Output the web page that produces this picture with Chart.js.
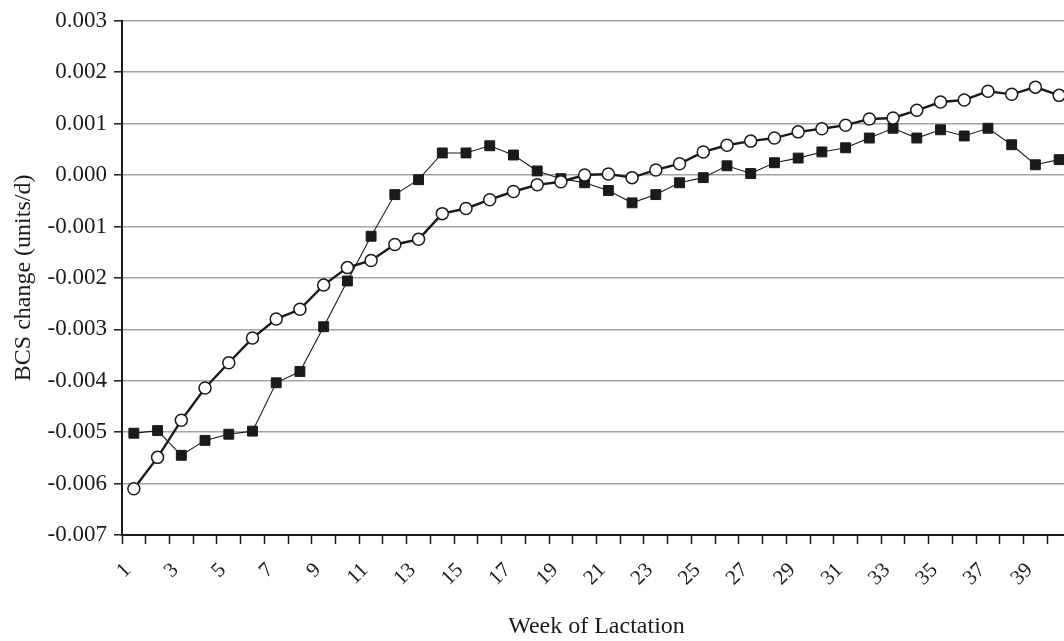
<!DOCTYPE html>
<html>
<head>
<meta charset="utf-8">
<script src="https://cdn.jsdelivr.net/npm/chart.js@4.4.1/dist/chart.umd.min.js"></script>
<style>
  html, body { margin: 0; padding: 0; background: #fff; overflow: hidden; }
  #wrap { position: relative; width: 1080px; height: 641px; }
</style>
</head>
<body>
<div id="wrap"><canvas id="bcs-chart"></canvas></div>
<script>
var weeks = [1, 2, 3, 4, 5, 6, 7, 8, 9, 10, 11, 12, 13, 14, 15, 16, 17, 18, 19, 20,
  21, 22, 23, 24, 25, 26, 27, 28, 29, 30, 31, 32, 33, 34, 35, 36, 37, 38, 39, 40];

// open circles
var circleSeries = [-0.0061, -0.00549, -0.00477, -0.00414, -0.00365, -0.00317, -0.0028, -0.00261, -0.00214, -0.0018,
  -0.00166, -0.00135, -0.00125, -0.00075, -0.00065, -0.00048, -0.00032, -0.00019, -0.00013, 0.0,
  0.00002, -0.00005, 0.0001, 0.00022, 0.00045, 0.00058, 0.00066, 0.00072, 0.00084, 0.0009,
  0.00097, 0.00109, 0.00111, 0.00126, 0.00142, 0.00146, 0.00163, 0.00157, 0.00171, 0.00155];

// filled squares
var squareSeries = [-0.00502, -0.00497, -0.00545, -0.00516, -0.00504, -0.00498, -0.00404, -0.00382, -0.00295, -0.00206,
  -0.00119, -0.00038, -0.00009, 0.00043, 0.00043, 0.00057, 0.00039, 0.00008, -0.00007, -0.00015,
  -0.0003, -0.00054, -0.00038, -0.00015, -0.00005, 0.00018, 0.00003, 0.00024, 0.00033, 0.00045,
  0.00053, 0.00072, 0.00091, 0.00072, 0.00088, 0.00076, 0.00091, 0.00059, 0.0002, 0.0003];

var yMin = -0.007, yMax = 0.003, yStep = 0.001;

var serif = '"Liberation Serif", "Times New Roman", serif';
var ink = "#1a1a1a";

var ctx = document.getElementById("bcs-chart").getContext("2d");
var chart = new Chart(ctx, {
  type: "line",
  data: {
    labels: weeks,
    datasets: [
      {
        label: "circles",
        data: circleSeries,
        borderColor: ink,
        borderWidth: 2.4,
        pointStyle: "circle",
        pointRadius: 6,
        pointBorderWidth: 1.5,
        pointBackgroundColor: "#fff",
        pointBorderColor: ink,
        tension: 0,
        fill: false
      },
      {
        label: "squares",
        data: squareSeries,
        borderColor: ink,
        borderWidth: 1.1,
        pointStyle: "rect",
        pointRadius: 7,
        pointBorderWidth: 1,
        pointBackgroundColor: ink,
        pointBorderColor: ink,
        tension: 0,
        fill: false
      }
    ]
  },
  options: {
    responsive: true,
    maintainAspectRatio: false,
    animation: false,
    layout: { padding: { top: 17, right: 9, left: 0, bottom: 0 } },
    plugins: { legend: { display: false }, tooltip: { enabled: false } },
    scales: {
      x: {
        type: "category",
        offset: true,
        grid: {
          offset: true,
          drawOnChartArea: false,
          drawTicks: true,
          tickLength: 9,
          tickColor: ink,
          tickWidth: 1.5
        },
        border: { color: ink, width: 2 },
        ticks: {
          autoSkip: false,
          maxRotation: 45,
          minRotation: 45,
          padding: 14,
          labelOffset: -6,
          color: ink,
          font: { family: serif, size: 21 },
          callback: function (v, i) {
            return weeks[i] % 2 === 1 ? String(weeks[i]) : "";
          }
        },
        title: {
          display: true,
          text: "Week of Lactation",
          color: ink,
          font: { family: serif, size: 24 },
          padding: { top: 4, bottom: 0 }
        },
        afterFit: function (s) {
          s.height = 106;
          // the plot runs past the right edge of the picture, so no label room there
          s.paddingLeft = 0;
          s.paddingRight = 0;
        }
      },
      y: {
        min: yMin,
        max: yMax,
        grid: {
          color: "#a3a3a3",
          lineWidth: 1.6,
          tickColor: ink,
          tickLength: 8,
          tickWidth: 1.5
        },
        border: { color: ink, width: 2 },
        ticks: {
          stepSize: yStep,
          padding: 7,
          color: ink,
          font: { family: serif, size: 23 },
          callback: function (v) {
            return Math.abs(v) < 1e-9 ? "0.000" : v.toFixed(3);
          }
        },
        title: {
          display: true,
          text: "BCS change (units/d)",
          color: ink,
          font: { family: serif, size: 24 },
          padding: { top: 9, bottom: 0 }
        },
        afterFit: function (s) { s.width = 122; }
      }
    }
  }
});
</script>
</body>
</html>
